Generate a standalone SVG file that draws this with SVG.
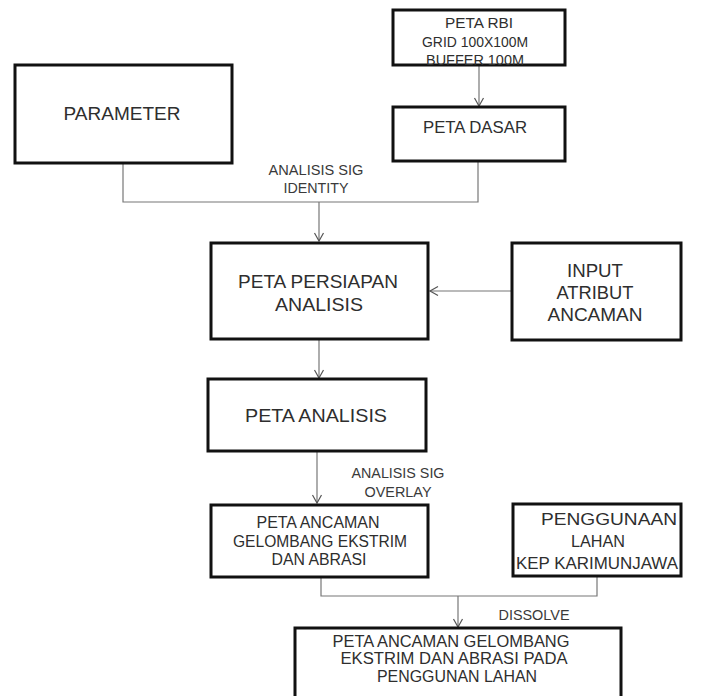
<svg xmlns="http://www.w3.org/2000/svg" width="704" height="696" viewBox="0 0 704 696">
<defs>
<marker id="arr" markerWidth="12" markerHeight="12" refX="10" refY="6" orient="auto" markerUnits="userSpaceOnUse" viewBox="0 0 12 12">
<path d="M2,1.5 L10,6 L2,10.5" fill="none" stroke="#555" stroke-width="1.2"/>
</marker>
</defs>
<style>
.box{fill:#fff;stroke:#111;stroke-width:3}
.t{font-family:"Liberation Sans",Arial,sans-serif;fill:#2e2e2e;text-anchor:middle}
.c{fill:none;stroke:#777;stroke-width:1.2}
.lbl{font-family:"Liberation Sans",Arial,sans-serif;fill:#3a3a3a;text-anchor:middle;font-size:14px}
</style>
<rect width="704" height="696" fill="#fff"/>
<g id="connectors">
<line class="c" x1="479" y1="65" x2="479" y2="106" marker-end="url(#arr)"/>
<polyline class="c" points="123,163 123,202 478,202 478,161"/>
<line class="c" x1="319" y1="202" x2="319" y2="241" marker-end="url(#arr)"/>
<line class="c" x1="512" y1="291" x2="430" y2="291" marker-end="url(#arr)"/>
<line class="c" x1="319" y1="339" x2="319" y2="378" marker-end="url(#arr)"/>
<line class="c" x1="317" y1="451" x2="317" y2="503" marker-end="url(#arr)"/>
<polyline class="c" points="321,577 321,596 597,596 597,576"/>
<line class="c" x1="458" y1="596" x2="458" y2="627" marker-end="url(#arr)"/>
<text class="lbl" x="316" y="175" textLength="95" lengthAdjust="spacingAndGlyphs">ANALISIS  SIG</text>
<text class="lbl" x="316" y="193" textLength="65" lengthAdjust="spacingAndGlyphs">IDENTITY</text>
<text class="lbl" x="398" y="478" textLength="93" lengthAdjust="spacingAndGlyphs">ANALISIS  SIG</text>
<text class="lbl" x="398" y="497" textLength="67" lengthAdjust="spacingAndGlyphs">OVERLAY</text>
<text class="lbl" x="534" y="620" textLength="71" lengthAdjust="spacingAndGlyphs">DISSOLVE</text>
</g>
<g id="peta-rbi">
<rect class="box" x="393" y="10" width="172" height="55"/>
<text class="t" x="479" y="28" font-size="14" textLength="68" lengthAdjust="spacingAndGlyphs">PETA  RBI</text>
<text class="t" x="475" y="47" font-size="14" textLength="106" lengthAdjust="spacingAndGlyphs">GRID 100X100M</text>
<text class="t" x="475" y="65" font-size="14" textLength="98" lengthAdjust="spacingAndGlyphs">BUFFER 100M</text>
</g>
<g id="peta-dasar">
<rect class="box" x="393" y="107" width="172" height="54"/>
<text class="t" x="475" y="133" font-size="16" textLength="104" lengthAdjust="spacingAndGlyphs">PETA  DASAR</text>
</g>
<g id="parameter">
<rect class="box" x="15" y="65" width="217" height="98"/>
<text class="t" x="122" y="120" font-size="18" textLength="117" lengthAdjust="spacingAndGlyphs">PARAMETER</text>
</g>
<g id="peta-persiapan">
<rect class="box" x="211" y="243" width="217" height="96"/>
<text class="t" x="318" y="288" font-size="18" textLength="160" lengthAdjust="spacingAndGlyphs">PETA PERSIAPAN</text>
<text class="t" x="319" y="311" font-size="18" textLength="88" lengthAdjust="spacingAndGlyphs">ANALISIS</text>
</g>
<g id="input-atribut">
<rect class="box" x="512" y="243" width="169" height="97"/>
<text class="t" x="595" y="277" font-size="17.5" textLength="56" lengthAdjust="spacingAndGlyphs">INPUT</text>
<text class="t" x="595" y="299" font-size="17.5" textLength="77" lengthAdjust="spacingAndGlyphs">ATRIBUT</text>
<text class="t" x="595" y="321" font-size="17.5" textLength="95" lengthAdjust="spacingAndGlyphs">ANCAMAN</text>
</g>
<g id="peta-analisis">
<rect class="box" x="208" y="379" width="218" height="72"/>
<text class="t" x="316" y="422" font-size="18" textLength="142" lengthAdjust="spacingAndGlyphs">PETA ANALISIS</text>
</g>
<g id="peta-ancaman">
<rect class="box" x="211" y="505" width="217" height="72"/>
<text class="t" x="318" y="528" font-size="16" textLength="123" lengthAdjust="spacingAndGlyphs">PETA ANCAMAN</text>
<text class="t" x="320" y="547" font-size="16" textLength="174" lengthAdjust="spacingAndGlyphs">GELOMBANG  EKSTRIM</text>
<text class="t" x="319" y="565" font-size="16" textLength="95" lengthAdjust="spacingAndGlyphs">DAN ABRASI</text>
</g>
<g id="penggunaan-lahan">
<rect class="box" x="513" y="504" width="168" height="72"/>
<text class="t" x="609" y="525" font-size="17" textLength="136" lengthAdjust="spacingAndGlyphs">PENGGUNAAN</text>
<text class="t" x="598" y="547" font-size="17" textLength="54" lengthAdjust="spacingAndGlyphs">LAHAN</text>
<text class="t" x="597" y="569" font-size="17" textLength="162" lengthAdjust="spacingAndGlyphs">KEP KARIMUNJAWA</text>
</g>
<g id="peta-ancaman-penggunaan">
<rect class="box" x="295" y="628" width="326" height="90"/>
<text class="t" x="451" y="647" font-size="16" textLength="237" lengthAdjust="spacingAndGlyphs">PETA ANCAMAN GELOMBANG</text>
<text class="t" x="454" y="664" font-size="16" textLength="227" lengthAdjust="spacingAndGlyphs">EKSTRIM  DAN ABRASI PADA</text>
<text class="t" x="457" y="682" font-size="16" textLength="160" lengthAdjust="spacingAndGlyphs">PENGGUNAN LAHAN</text>
</g>
</svg>
